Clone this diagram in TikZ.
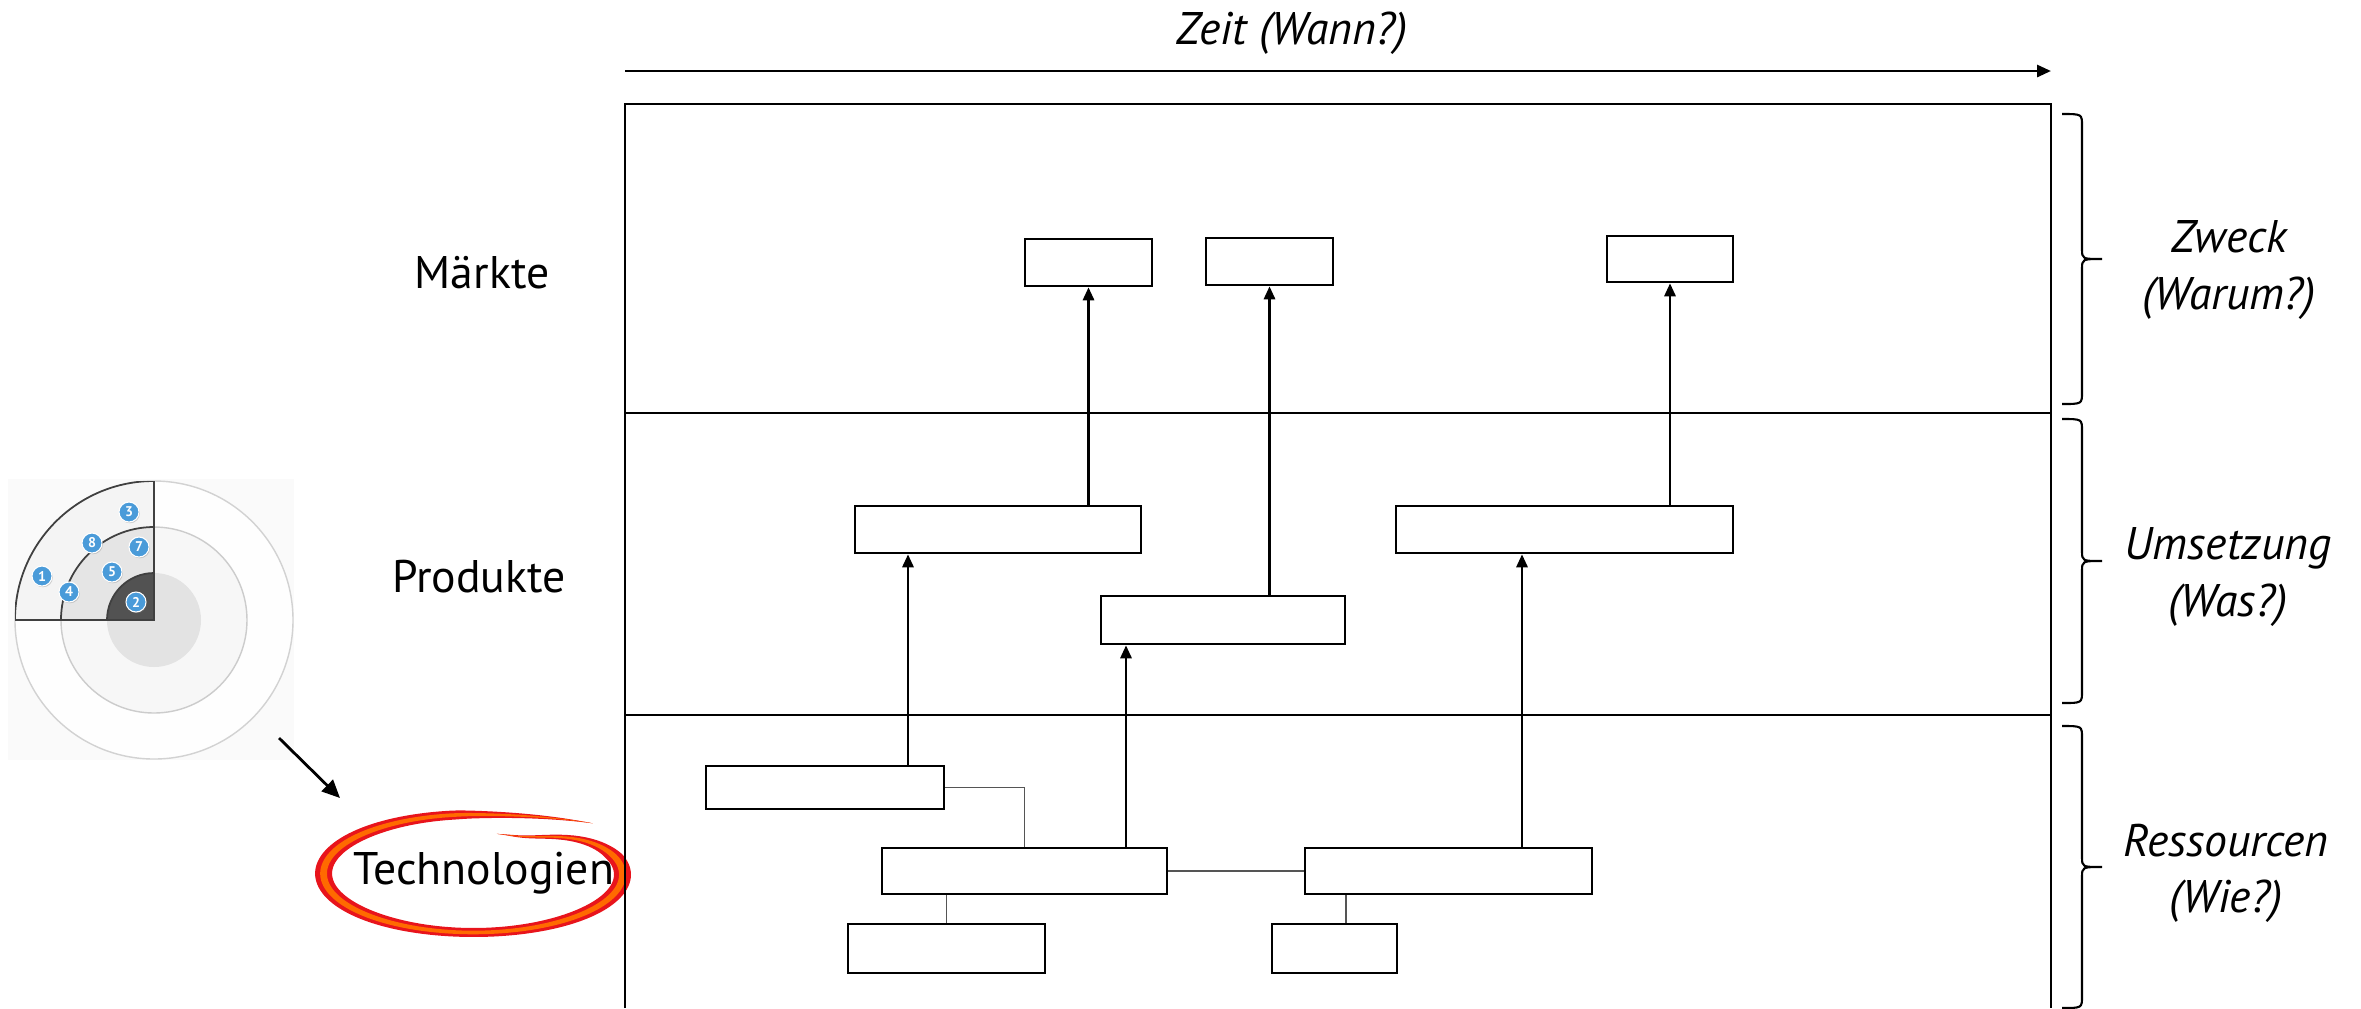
\documentclass[tikz,border=0pt]{standalone}
\usepackage{fontspec}
\setmainfont{PT Sans}
\usetikzlibrary{arrows.meta,shadows}
\definecolor{DotBlue}{HTML}{4A9BD9}
\definecolor{BrushRed}{HTML}{E8141C}
\definecolor{BrushOrange}{HTML}{FF6A00}
\definecolor{WireGray}{HTML}{555555}
\tikzset{
  blk/.style={draw=black,line width=0.7pt,fill=white,inner sep=0pt},
  up/.style={-{Triangle[length=1.3mm,width=1.1mm]},line width=0.8pt},
  wire/.style={WireGray,line width=0.45pt},
  lbl/.style={font=\fontsize{13}{16}\selectfont},
  side/.style={font=\fontsize{13}{16}\selectfont\itshape,align=center},
  dot/.style={circle,fill=DotBlue,draw=white,line width=0.3pt,minimum size=2mm,inner sep=0pt,
    text=white,font=\fontsize{4}{4}\selectfont\bfseries,
    drop shadow={shadow xshift=0.25pt,shadow yshift=-0.35pt,opacity=0.35}}
}
\begin{document}
\begin{tikzpicture}[x=0.01cm,y=-0.01cm,
  declare function={hu(\q)=min(\q+77,150)/30; he(\q)=max(0,\q-270)/43;
    kk(\q)=1-0.31/(1+hu(\q)*hu(\q)*hu(\q)*hu(\q))+0.165*he(\q)*he(\q);
    ww(\q)=(13+4*cos(2*\q))*min(1,(\q+77)/60)*min(1,(313-\q)/50);}]
\useasboundingbox (0,0) rectangle (2361,1008);
% radar icon
\fill[gray!4] (8,479) rectangle (294,760);
\coordinate (c) at (154,620);
\draw[gray!35,fill=gray!1] (c) circle[radius=139];
\draw[gray!40,fill=gray!6] (c) circle[radius=93];
\fill[gray!22] (c) circle[radius=47];
\begin{scope}
\clip (c) rectangle (15,481);
\draw[black!75,line width=0.5pt,fill=gray!9] (c) circle[radius=139];
\draw[black!75,line width=0.5pt,fill=gray!20] (c) circle[radius=93];
\draw[black!75,line width=0.5pt,fill=black!68] (c) circle[radius=47];
\end{scope}
\draw[black!75,line width=0.5pt] (15,620) -- (c) -- (154,481);
\foreach \n/\px/\py in {3/129/512,8/92/543,7/139/547,1/42/576,5/112/572,4/69/592,2/136/602}
  \node[dot] (d\n) at (\px,\py) {\n};
\coordinate (ic) at (279,738);
\coordinate (te) at (340,798);
\draw[line width=0.8pt,-{Triangle[length=1.8mm,width=1.6mm]}] (ic) -- (te);
% brush ellipse
\fill[BrushRed] plot[domain=-77:313,samples=160] ({473.5+(150*kk(\x)+ww(\x)/2)*cos(\x)},{873.5+(59*kk(\x)+ww(\x)/2)*sin(\x)})
  -- plot[domain=313:-77,samples=160] ({473.5+(150*kk(\x)-ww(\x)/2)*cos(\x)},{873.5+(59*kk(\x)-ww(\x)/2)*sin(\x)}) -- cycle;
\fill[BrushOrange] plot[domain=-77:313,samples=160] ({473.5+(150*kk(\x)+ww(\x)/5)*cos(\x)},{873.5+(59*kk(\x)+ww(\x)/5)*sin(\x)})
  -- plot[domain=313:-77,samples=160] ({473.5+(150*kk(\x)-ww(\x)/5)*cos(\x)},{873.5+(59*kk(\x)-ww(\x)/5)*sin(\x)}) -- cycle;
% labels left
\node[lbl] (mk) at (482,273) {Märkte};
\node[lbl] (pr) at (479,577) {Produkte};
\node[lbl] (tc) at (484,873) {Technologien};
% frame and time axis
\draw[line width=0.6pt] (625,1008) -- (625,104) -- (2051,104) -- (2051,1008);
\draw[line width=0.6pt] (625,413) -- (2051,413) (625,715) -- (2051,715);
\coordinate (z0) at (625,71);
\coordinate (z1) at (2051,71);
\draw[line width=0.8pt,-{Triangle[length=1.4mm,width=1.2mm]}] (z0) -- (z1);
\node[side] (zt) at (1292,33) {Zeit (Wann?)};
% braces
\foreach \ya/\yb in {114/404,419/703,726/1008}{
  \pgfmathsetmacro\ym{(\ya+\yb)/2}
  \draw[line width=0.6pt] (2062,\ya) .. controls (2082,\ya) .. (2082,\ya+12) -- (2082,\ym-10)
    .. controls (2082,\ym) .. (2102,\ym) .. controls (2082,\ym) .. (2082,\ym+10)
    -- (2082,\yb-12) .. controls (2082,\yb) .. (2062,\yb);
}
\node[side] (zw) at (2229,270) {Zweck\\(Warum?)};
\node[side] (um) at (2228,577) {Umsetzung\\(Was?)};
\node[side] (rs) at (2226,873) {Ressourcen\\(Wie?)};
% boxes
\node[blk,minimum width=1.27cm,minimum height=0.47cm] (m1) at (1088.5,262.5) {};
\node[blk,minimum width=1.27cm,minimum height=0.47cm] (m2) at (1269.5,261.5) {};
\node[blk,minimum width=1.26cm,minimum height=0.46cm] (m3) at (1670,259) {};
\node[blk,minimum width=2.86cm,minimum height=0.47cm] (p1) at (998,529.5) {};
\node[blk,minimum width=3.37cm,minimum height=0.47cm] (p2) at (1564.5,529.5) {};
\node[blk,minimum width=2.44cm,minimum height=0.48cm] (p3) at (1223,620) {};
\node[blk,minimum width=2.38cm,minimum height=0.43cm] (t1) at (825,787.5) {};
\node[blk,minimum width=2.85cm,minimum height=0.46cm] (t2) at (1024.5,871) {};
\node[blk,minimum width=2.87cm,minimum height=0.46cm] (t3) at (1448.5,871) {};
\node[blk,minimum width=1.97cm,minimum height=0.49cm] (t4) at (946.5,948.5) {};
\node[blk,minimum width=1.25cm,minimum height=0.49cm] (t5) at (1334.5,948.5) {};
% connectors
\coordinate (x1) at (908,0);
\coordinate (x2) at (1126,0);
\coordinate (x3) at (1522,0);
\coordinate (x4) at (1346,0);
\draw[up] (p1.north -| m1.south) -- (m1.south);
\draw[up] (p3.north -| m2.south) -- (m2.south);
\draw[up] (p2.north -| m3.south) -- (m3.south);
\draw[up] (t1.north -| x1) -- (p1.south -| x1);
\draw[up] (t2.north -| x2) -- (p3.south -| x2);
\draw[up] (t3.north -| x3) -- (p2.south -| x3);
\draw[wire] (t1.east) -| (t2.north);
\draw[wire] (t2.east) -- (t3.west);
\draw[wire] (t4.north) -- (t4.north |- t2.south);
\draw[wire] (t3.south -| x4) -- (t5.north -| x4);
\end{tikzpicture}
\end{document}
